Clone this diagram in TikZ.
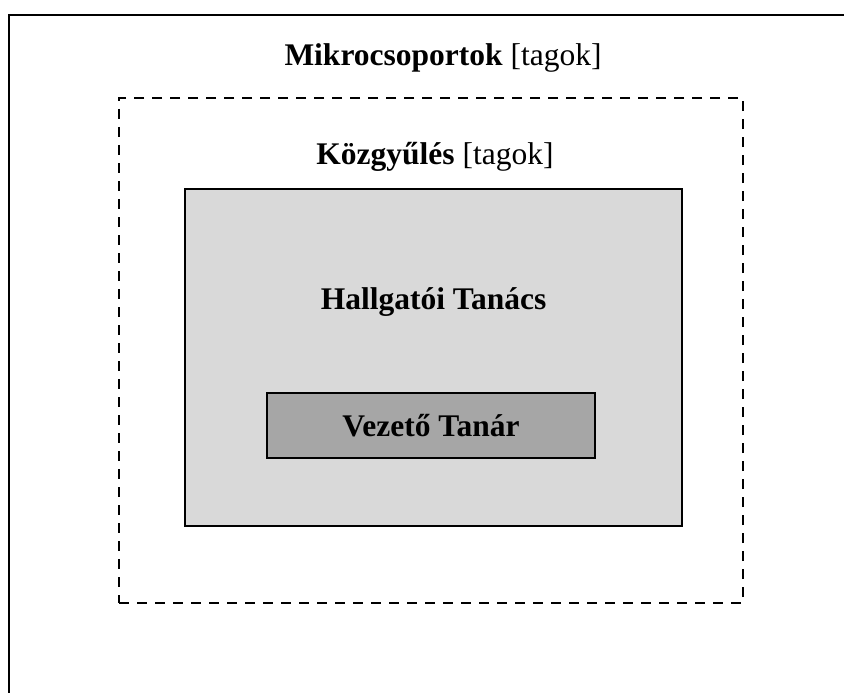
\documentclass[tikz,border=0pt]{standalone}
\usepackage{fontspec}
\setmainfont{Liberation Serif}
\usetikzlibrary{calc}

\begin{document}
\begin{tikzpicture}[x=1pt,y=-1pt, font=\fontsize{31.5}{38}\selectfont,
  box/.style={draw, line width=2.6pt, inner sep=0pt}]
\useasboundingbox (0,0) rectangle (844,693);
\clip (0,0) rectangle (844,693);
%outer box (runs off the page)
\draw[line width=2.6pt] (9,15) rectangle (880,740);
\node[anchor=base] (mikro) at (443,66) {\textbf{Mikrocsoportok} [tagok]};
%dashed box
\node[box, dash pattern=on 10pt off 8pt, minimum width=624pt, minimum height=505pt] (kozgy) at (431,350.5) {};
\node[anchor=base] (kozgylabel) at (435,164) {\textbf{Közgyűlés} [tagok]};
%shade boxes
\node[box, fill=gray!30, minimum width=497pt, minimum height=337pt] (ht) at (433.5,357.5) {};
\node[anchor=base] (htlabel) at (433.5,309) {\textbf{Hallgatói Tanács}};
\node[box, fill=gray!70, minimum width=328pt, minimum height=65pt, font=\fontsize{31.5}{38}\selectfont\bfseries] (vt) at (431,425.5) {Vezető Tanár};
\end{tikzpicture}
\end{document}
